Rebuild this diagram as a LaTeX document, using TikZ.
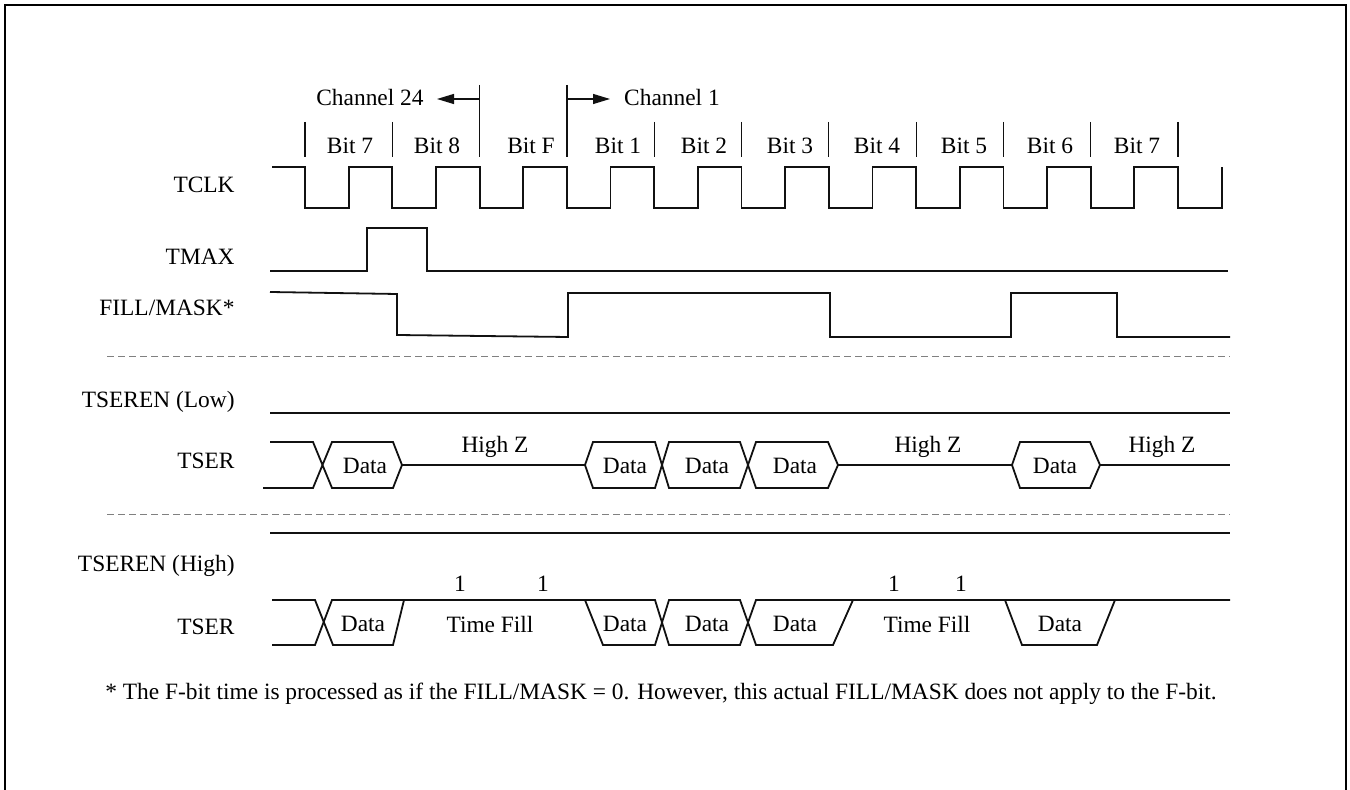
\documentclass[tikz,border=0pt]{standalone}
\usepackage{fontspec}
\setmainfont{Liberation Serif}
\usepackage{tikz}
\usetikzlibrary{arrows.meta}
\definecolor{wireInk}{HTML}{111111}
\definecolor{splitGray}{HTML}{808080}

\begin{document}
\begin{tikzpicture}[x=0.5pt, y=-0.5pt, font=\fontsize{11.7}{13}\selectfont,
      sig/.style={draw=wireInk, line width=0.9pt, line join=miter},
      tick/.style={draw=wireInk, line width=0.6pt},
      split/.style={draw=splitGray, line width=0.5pt, dash pattern=on 3.5pt off 2pt},
      lbl/.style={anchor=base east, inner sep=0pt},
      txt/.style={anchor=base, inner sep=0pt}]
    \useasboundingbox (0,0) rectangle (1350,790);
    \draw[line width=1pt] (5,790) -- (5,5) -- (1346,5) -- (1346,790);
    % ---- signal names
    \node[lbl] (nclk) at (235,193) {TCLK};
    \node[lbl] (nmax) at (235,265) {TMAX};
    \node[lbl] (nfill) at (235,316) {FILL/MASK*};
    \node[lbl] (nenl) at (235,408) {TSEREN (Low)};
    \node[lbl] (nserl) at (235,469) {TSER};
    \node[lbl] (nenh) at (235,572) {TSEREN (High)};
    \node[lbl] (nserh) at (235,635) {TSER};
    % ---- bit boundaries and channel marks
    \foreach \k in {0,...,10} {
      \ifnum\k=2 \def\ytop{85}\else\ifnum\k=3 \def\ytop{85}\else\def\ytop{122}\fi\fi
      \draw[tick] (305+87.3*\k,\ytop) -- (305+87.3*\k,157);
    }
    \foreach \x/\t [count=\i] in {350/Bit 7, 437/Bit 8, 531/Bit F, 618/Bit 1, 704/Bit 2,
        790/Bit 3, 877/Bit 4, 964/Bit 5, 1050/Bit 6, 1137/Bit 7} {
      \node[txt] (bit\i) at (\x,154) {\t};
    }
    \coordinate (c24) at (479,99);
    \coordinate (c1) at (567,99);
    \node[txt] (ch24) at (370,106) {Channel 24};
    \node[txt] (ch1) at (672,106) {Channel 1};
    \draw[tick, -{Triangle[length=8.5pt, width=5pt]}] (c24) -- (437,99);
    \draw[tick, -{Triangle[length=8.5pt, width=5pt]}] (c1) -- (610,99);
    % ---- TCLK
    \draw[sig] (272,167) -- (305,167)
      \foreach \k in {0,...,9} { -- ++(0,41) -- ++(43.65,0) -- ++(0,-41) -- ++(43.65,0) }
      -- ++(0,41) -- ++(43.65,0) -- ++(0,-41);
    % ---- TMAX and FILL/MASK*
    \draw[sig] (270,271) -- (367,271) -- (367,228) -- (427,228) -- (427,271) -- (1228,271);
    \draw[sig] (270,292) -- (397,294) -- (397,335) -- (568,337) -- (568,293) -- (830,293)
      -- (830,337) -- (1011,337) -- (1011,293) -- (1117,293) -- (1117,337) -- (1230,337);
    \draw[split] (107,357) -- (1230,357);
    % ---- TSEREN low
    \draw[sig] (270,413) -- (1230,413);
    \draw[sig] (263,488) -- (313,488) -- (332,442) -- (393,442) -- (402,465) -- (393,488)
      -- (332,488) -- (313,442) -- (270,442);
    \draw[sig] (402,465) -- (585,465);
    \draw[sig] (585,465) -- (593,442) -- (655,442) -- (669,488) -- (740,488) -- (756,442)
      -- (828,442) -- (838,465) -- (828,488) -- (756,488) -- (740,442) -- (669,442)
      -- (655,488) -- (593,488) -- cycle;
    \draw[sig] (838,465) -- (1012,465);
    \draw[sig] (1012,465) -- (1020,442) -- (1090,442) -- (1100,465) -- (1090,488) -- (1020,488) -- cycle;
    \draw[sig] (1100,465) -- (1230,465);
    \foreach \x [count=\i] in {365,625,707,795,1055} { \node[txt] (dl\i) at (\x,474) {Data}; }
    \foreach \x [count=\i] in {495,928,1162} { \node[txt] (hz\i) at (\x,453) {High Z}; }
    \draw[split] (107,515) -- (1230,515);
    % ---- TSEREN high
    \draw[sig] (270,533) -- (1230,533);
    \draw[sig] (272,645) -- (315,645) -- (332,600) -- (655,600) -- (669,645) -- (740,645)
      -- (756,600) -- (1230,600);
    \draw[sig] (272,600) -- (315,600) -- (333,645) -- (393,645) -- (404,600);
    \draw[sig] (585,600) -- (603,645) -- (655,645) -- (669,600) -- (740,600) -- (756,645)
      -- (833,645) -- (853,600);
    \draw[sig] (1005,600) -- (1022,645) -- (1097,645) -- (1115,600);
    \foreach \x [count=\i] in {363,625,707,795,1060} { \node[txt] (dh\i) at (\x,632) {Data}; }
    \foreach \x [count=\i] in {490,927} { \node[txt] (tf\i) at (\x,633) {Time Fill}; }
    \foreach \x [count=\i] in {460,543,894,961} { \node[txt] (one\i) at (\x,592) {1}; }
    % ---- note
    \node[anchor=base west, inner sep=0pt] (note) at (105,700)
      {* The F-bit time is processed as if the FILL/MASK = 0. However, this actual FILL/MASK does not apply to the F-bit.};
\end{tikzpicture}
\end{document}
